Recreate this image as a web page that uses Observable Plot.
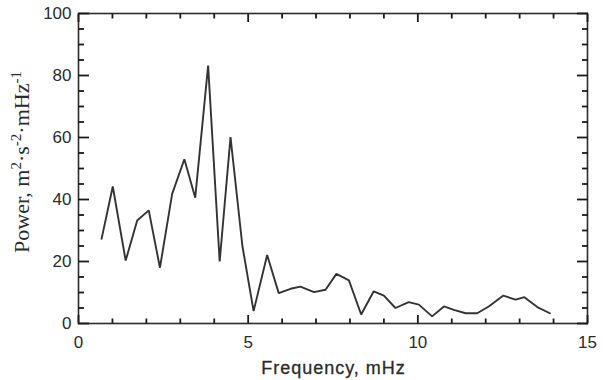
<!DOCTYPE html>
<html>
<head>
<meta charset="utf-8">
<script src="https://cdn.jsdelivr.net/npm/d3@7"></script>
<script src="https://cdn.jsdelivr.net/npm/@observablehq/plot@0.6"></script>
<style>
  html, body { margin: 0; padding: 0; background: #fff; }
  #chart svg { display: block; background: #fff; font-family: 'Liberation Sans', Arial, sans-serif; }
</style>
</head>
<body>
<div id="chart"></div>
<script>
// Frequency (mHz) and power values
const frequency = [0.68, 1.01, 1.39, 1.73, 2.07, 2.40, 2.76, 3.12, 3.44, 3.82, 4.16, 4.48, 4.83, 5.16, 5.56, 5.90, 6.25, 6.54, 6.94, 7.28, 7.60, 7.97, 8.33, 8.70, 9.00, 9.34, 9.73, 10.03, 10.42, 10.77, 11.06, 11.41, 11.75, 12.09, 12.52, 12.88, 13.14, 13.52, 13.89];
const power = [27.3, 44.2, 20.3, 33.2, 36.5, 18.0, 41.8, 53.0, 40.6, 83.2, 20.0, 60.1, 25.0, 4.0, 22.1, 9.8, 11.2, 11.9, 10.1, 10.9, 16.0, 13.9, 2.9, 10.4, 9.0, 5.0, 6.9, 6.1, 2.3, 5.5, 4.4, 3.3, 3.3, 5.5, 9.0, 7.7, 8.5, 5.3, 3.3];

const xMajor = [0, 5, 10, 15];
const xMinor = [1, 2, 3, 4, 6, 7, 8, 9, 11, 12, 13, 14];
const yMajor = [0, 20, 40, 60, 80, 100];
const yMinor = [5, 10, 15, 25, 30, 35, 45, 50, 55, 65, 70, 75, 85, 90, 95];

const xLabel = "Frequency, mHz";

const data = frequency.map((f, i) => ({f, p: power[i]}));

const ink = "#2b2b2b";
const tickColor = "#1a1a1a";
const tk = {text: null, label: null, strokeWidth: 1.8, stroke: tickColor};

const plot = Plot.plot({
  width: 603,
  height: 380,
  marginLeft: 78,
  marginRight: 16,
  marginTop: 13,
  marginBottom: 57,
  x: {domain: [0, 15]},
  y: {domain: [0, 100]},
  marks: [
    Plot.frame({stroke: ink, strokeWidth: 1.6}),
    Plot.line(data, {x: "f", y: "p", stroke: "#333", strokeWidth: 1.9, strokeLinejoin: "miter"}),
    // inward ticks (drawn outward, then shifted inside the frame)
    Plot.axisX({...tk, anchor: "bottom", ticks: xMajor, tickSize: 8, dy: -8}),
    Plot.axisX({...tk, anchor: "bottom", ticks: xMinor, tickSize: 4.5, dy: -4.5}),
    Plot.axisX({...tk, anchor: "top", ticks: xMajor, tickSize: 8, dy: 8}),
    Plot.axisX({...tk, anchor: "top", ticks: xMinor, tickSize: 4.5, dy: 4.5}),
    Plot.axisY({...tk, anchor: "left", ticks: yMajor, tickSize: 11, dx: 11}),
    Plot.axisY({...tk, anchor: "left", ticks: yMinor, tickSize: 6, dx: 6}),
    Plot.axisY({...tk, anchor: "right", ticks: yMajor, tickSize: 11, dx: -11}),
    Plot.axisY({...tk, anchor: "right", ticks: yMinor, tickSize: 6, dx: -6}),
    // tick labels
    Plot.axisX({anchor: "bottom", ticks: xMajor, tickSize: 0, tickPadding: 12, label: null, fontSize: 17, fill: ink, stroke: ink, strokeWidth: 0.35}),
    Plot.axisY({anchor: "left", ticks: yMajor, tickSize: 0, tickPadding: 7, label: null, fontSize: 17, fill: ink, stroke: ink, strokeWidth: 0.35})
  ]
});

document.getElementById("chart").appendChild(plot);

const svg = d3.select(plot);
const xs = plot.scale("x"), ys = plot.scale("y");
const X = v => xs.apply(v), Y = v => ys.apply(v);
const x0 = X(xs.domain[0]), x1 = X(xs.domain[1]);
const yB = Y(ys.domain[0]), yT = Y(ys.domain[1]);

// x axis title
svg.append("text")
  .attr("x", (x0 + x1) / 2 + 1).attr("y", 374)
  .attr("text-anchor", "middle")
  .attr("fill", ink)
  .attr("stroke", ink).attr("stroke-width", 0.3)
  .style("font", "18px 'Liberation Sans', Arial, sans-serif")
  .style("letter-spacing", "1px")
  .text(xLabel);

// y axis title with superscripts
const yt = svg.append("text")
  .attr("transform", `translate(29,${(yB + yT) / 2 - 6}) rotate(-90)`)
  .attr("text-anchor", "middle")
  .attr("fill", ink)
  .style("font", "22px 'Liberation Serif', 'Times New Roman', serif");
const parts = [["Power, m", 0], ["2", 1], ["\u00b7s", 0], ["-2", 1], ["\u00b7mHz", 0], ["-1", 1]];
parts.forEach(([t, sup]) => {
  const ts = yt.append("tspan").text(t);
  if (sup) ts.attr("baseline-shift", "super").style("font-size", "15px");
});
</script>
</body>
</html>
